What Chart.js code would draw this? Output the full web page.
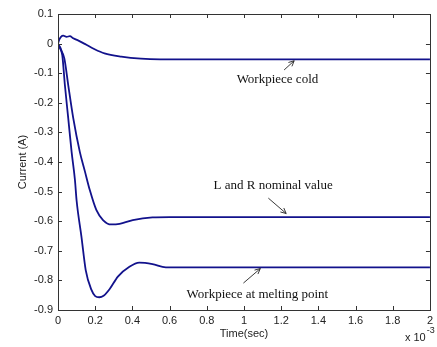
<!DOCTYPE html>
<html>
<head>
<meta charset="utf-8">
<script src="https://cdn.jsdelivr.net/npm/chart.js@4.4.1/dist/chart.umd.min.js"></script>
<style>
  html, body { margin: 0; padding: 0; background: #fff; }
  #wrap { width: 437px; height: 347px; position: relative; }
</style>
</head>
<body>
<div id="wrap"><canvas id="c" width="437" height="347"></canvas></div>
<script>
// ---- Data (time in units of 1e-3 s, current in A) ----
const timeCold = [0, 0.008, 0.016, 0.028, 0.046, 0.064, 0.082, 0.11, 0.144, 0.197, 0.25, 0.34, 0.446, 0.55, 2.0];
const currentCold = [0, 0.015, 0.023, 0.027, 0.023, 0.025, 0.018, 0.01, -0.001, -0.019, -0.033, -0.044, -0.051, -0.053, -0.053];

const timeNominal = [0, 0.011, 0.034, 0.055, 0.082, 0.117, 0.144, 0.171, 0.206, 0.242, 0.286, 0.331, 0.402, 0.508, 0.6, 2.0];
const currentNominal = [0, -0.016, -0.05, -0.14, -0.252, -0.365, -0.43, -0.495, -0.562, -0.596, -0.611, -0.609, -0.596, -0.587, -0.586, -0.586];

const timeMelting = [0, 0.005, 0.023, 0.037, 0.055, 0.073, 0.091, 0.1, 0.126, 0.149, 0.18, 0.2, 0.222, 0.245, 0.277, 0.322, 0.384, 0.437, 0.508, 0.58, 2.0];
const currentMelting = [0, -0.005, -0.039, -0.14, -0.252, -0.365, -0.46, -0.53, -0.652, -0.765, -0.832, -0.853, -0.857, -0.852, -0.83, -0.787, -0.754, -0.74, -0.745, -0.756, -0.756];

const xTickValues = [0, 0.2, 0.4, 0.6, 0.8, 1, 1.2, 1.4, 1.6, 1.8, 2];
const yTickValues = [0.1, 0, -0.1, -0.2, -0.3, -0.4, -0.5, -0.6, -0.7, -0.8, -0.9];

const seriesNames = ['Workpiece cold', 'L and R nominal value', 'Workpiece at melting point'];
const xTitle = 'Time(sec)';
const yTitle = 'Current (A)';
const exponentBase = 'x 10';
const exponentPow = '-3';

// annotations: [text, textX, textY, arrowFromX, arrowFromY, arrowToX, arrowToY] in data units
const annotations = [
  [seriesNames[0], 1.18, -0.123, 1.216, -0.089, 1.27, -0.058],
  [seriesNames[1], 1.157, -0.481, 1.131, -0.522, 1.227, -0.574],
  [seriesNames[2], 1.072, -0.849, 0.997, -0.809, 1.088, -0.76]
];

const lineColor = '#12128c';
function pts(xs, ys) { return xs.map((x, i) => ({ x: x, y: ys[i] })); }

const framePlugin = {
  id: 'frame',
  afterDraw(chart) {
    const ctx = chart.ctx;
    const a = chart.chartArea;
    const xs = chart.scales.x, ys = chart.scales.y;
    ctx.save();
    // frame
    ctx.strokeStyle = '#333';
    ctx.lineWidth = 1;
    ctx.strokeRect(Math.round(a.left) + 0.5, Math.round(a.top) + 0.5,
                   Math.round(a.right - a.left), Math.round(a.bottom - a.top));
    // inward ticks
    const tl = 4;
    ctx.beginPath();
    xTickValues.forEach(v => {
      const px = Math.round(xs.getPixelForValue(v)) + 0.5;
      ctx.moveTo(px, a.bottom); ctx.lineTo(px, a.bottom - tl);
      ctx.moveTo(px, a.top); ctx.lineTo(px, a.top + tl);
    });
    yTickValues.forEach(v => {
      const py = Math.round(ys.getPixelForValue(v)) + 0.5;
      ctx.moveTo(a.left, py); ctx.lineTo(a.left + tl, py);
      ctx.moveTo(a.right, py); ctx.lineTo(a.right - tl, py);
    });
    ctx.stroke();

    // exponent label
    ctx.fillStyle = '#222';
    ctx.font = '11px "Liberation Sans", Arial, sans-serif';
    ctx.textBaseline = 'middle';
    ctx.textAlign = 'left';
    const wBase = ctx.measureText(exponentBase).width;
    const ex = a.right - 25;
    ctx.fillText(exponentBase, ex, a.bottom + 28);
    ctx.font = '9px "Liberation Sans", Arial, sans-serif';
    ctx.fillText(exponentPow, ex + wBase + 1, a.bottom + 21);

    // annotations
    ctx.font = '13px "Liberation Serif", "Times New Roman", serif';
    ctx.fillStyle = '#111';
    ctx.textAlign = 'center';
    ctx.textBaseline = 'middle';
    ctx.strokeStyle = '#222';
    ctx.lineWidth = 0.9;
    annotations.forEach(an => {
      const [t, tx, ty, fx, fy, ax, ay] = an;
      ctx.fillText(t, xs.getPixelForValue(tx), ys.getPixelForValue(ty));
      const x1 = xs.getPixelForValue(fx), y1 = ys.getPixelForValue(fy);
      const x2 = xs.getPixelForValue(ax), y2 = ys.getPixelForValue(ay);
      ctx.beginPath();
      ctx.moveTo(x1, y1); ctx.lineTo(x2, y2);
      const ang = Math.atan2(y2 - y1, x2 - x1);
      const h = 6, sp = 0.45;
      ctx.moveTo(x2, y2); ctx.lineTo(x2 - h * Math.cos(ang - sp), y2 - h * Math.sin(ang - sp));
      ctx.moveTo(x2, y2); ctx.lineTo(x2 - h * Math.cos(ang + sp), y2 - h * Math.sin(ang + sp));
      ctx.stroke();
    });
    ctx.restore();
  }
};

const tickFont = { family: '"Liberation Sans", Arial, sans-serif', size: 11 };

new Chart(document.getElementById('c'), {
  type: 'line',
  data: {
    datasets: [
      { label: seriesNames[0], data: pts(timeCold, currentCold) },
      { label: seriesNames[1], data: pts(timeNominal, currentNominal) },
      { label: seriesNames[2], data: pts(timeMelting, currentMelting) }
    ].map(d => Object.assign(d, {
      borderColor: lineColor, borderWidth: 1.8, pointRadius: 0,
      cubicInterpolationMode: 'monotone', fill: false
    }))
  },
  options: {
    responsive: false,
    animation: false,
    events: [],
    layout: { padding: { left: 0, right: 4, top: 14, bottom: 0 } },
    plugins: { legend: { display: false }, tooltip: { enabled: false } },
    scales: {
      x: {
        type: 'linear', min: 0, max: 2,
        afterFit(s) { s.height = 37; },
        afterBuildTicks(s) { s.ticks = xTickValues.map(v => ({ value: v })); },
        grid: { display: false, drawTicks: false },
        border: { display: false },
        ticks: {
          font: tickFont, color: '#222', padding: 4, maxRotation: 0, autoSkip: false,
          callback: v => String(Number(v.toFixed(1)))
        },
        title: { display: true, text: xTitle, font: tickFont, color: '#222', padding: { top: 0, bottom: 6 } }
      },
      y: {
        type: 'linear', min: -0.9, max: 0.1,
        afterFit(s) { s.width = 58; },
        afterBuildTicks(s) { s.ticks = yTickValues.slice().reverse().map(v => ({ value: v })); },
        grid: { display: false, drawTicks: false },
        border: { display: false },
        ticks: {
          font: tickFont, color: '#222', padding: 5, autoSkip: false,
          callback: v => String(Number(v.toFixed(1)))
        },
        title: { display: true, text: yTitle, font: tickFont, color: '#222', padding: { top: 16, bottom: 0 } }
      }
    }
  },
  plugins: [framePlugin]
});
</script>
</body>
</html>
